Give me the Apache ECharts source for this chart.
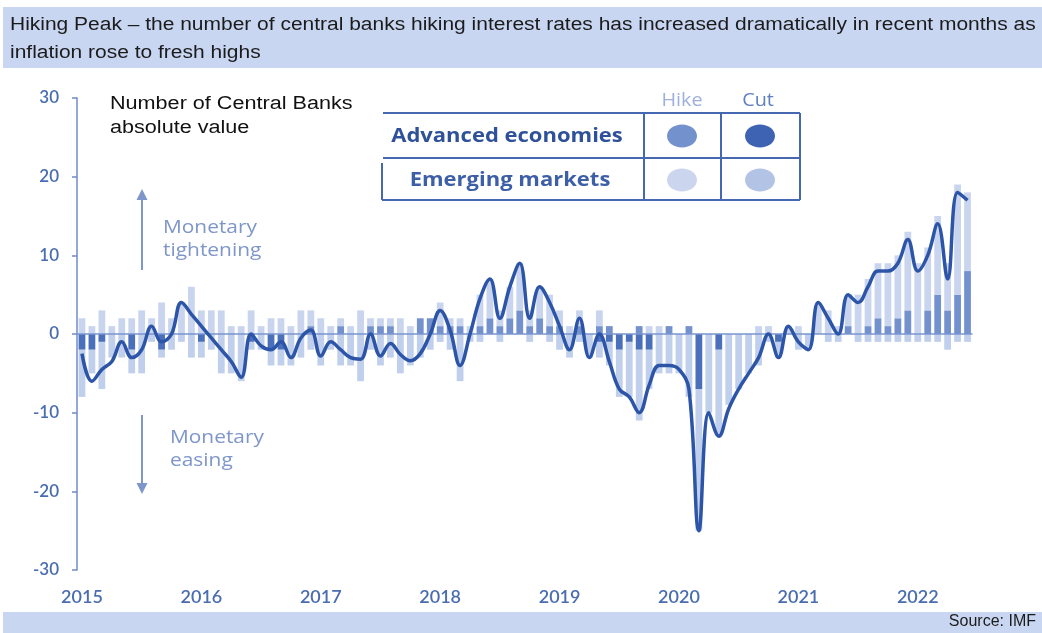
<!DOCTYPE html>
<html>
<head>
<meta charset="utf-8">
<script src="https://cdn.jsdelivr.net/npm/echarts@6/dist/echarts.min.js"></script>
<style>
  html, body { margin: 0; padding: 0; background: #ffffff; }
  #chart { width: 1042px; height: 633px; }
</style>
</head>
<body>
<div id="chart"></div>
<script>
// Monthly observations, Jan 2015 – Jun 2022
const years = [2015, 2016, 2017, 2018, 2019, 2020, 2021, 2022];
const monthsInLastYear = 6;

// Advanced economies: number of central banks hiking (positive) / cutting (negative)
const aeHike = [
  0, 0, 0, 0, 0, 0, 0, 0, 0, 0, 0, 0,
  0, 0, 0, 0, 0, 0, 0, 0, 0, 0, 0, 1,
  0, 0, 1, 0, 0, 1, 1, 1, 0, 0, 2, 2,
  1, 1, 1, 0, 1, 2, 1, 2, 3, 1, 2, 1,
  1, 0, 1, 0, 1, 1, 0, 0, 1, 0, 0, 1,
  0, 1, 0, 0, 0, 0, 0, 0, 0, 0, 0, 0,
  0, 0, 0, 0, 0, 1, 0, 1, 2, 1, 2, 3,
  0, 3, 5, 3, 5, 8
];
const aeCut = [
  -2, -2, -1, 0, 0, -2, 0, 0, -2, 0, 0, 0,
  -1, 0, 0, 0, 0, -1, 0, -2, -2, 0, 0, 0,
  0, 0, 0, 0, 0, 0, 0, 0, 0, 0, 0, 0,
  0, 0, 0, 0, 0, 0, 0, 0, 0, 0, 0, 0,
  0, 0, 0, 0, -1, -1, -2, -1, -2, -2, 0, 0,
  0, 0, -7, 0, -2, 0, 0, 0, 0, 0, -1, 0,
  0, 0, 0, 0, 0, 0, 0, 0, 0, 0, 0, 0,
  0, 0, 0, 0, 0, 0
];
// Emerging markets: hiking (positive) / cutting (negative)
const emHike = [
  2, 1, 3, 1, 2, 2, 3, 2, 4, 2, 4, 6,
  3, 3, 3, 1, 1, 3, 1, 2, 2, 1, 3, 2,
  2, 1, 1, 1, 3, 1, 1, 1, 2, 1, 0, 0,
  3, 1, 1, 1, 4, 5, 2, 4, 6, 2, 4, 4,
  2, 1, 2, 0, 2, 0, 0, 0, 0, 1, 1, 0,
  0, 0, 0, 0, 0, 0, 0, 0, 1, 1, 0, 1,
  1, 0, 4, 3, 1, 4, 5, 6, 7, 8, 8, 10,
  9, 8, 10, 6, 14, 10
];
const emCut = [
  -6, -3, -6, -3, -3, -3, -5, -1, -1, -2, -1, -3,
  -2, -2, -5, -5, -6, -1, -2, -2, -2, -4, -3, -2,
  -4, -2, -4, -4, -6, -2, -4, -3, -5, -4, -3, -2,
  -1, -2, -6, -1, -1, 0, -1, 0, 0, -1, 0, -1,
  -2, -3, -1, -3, -2, -3, -6, -7, -9, -5, -5, -5,
  -5, -8, -18, -10, -11, -9, -7, -5, -4, -1, -2, 0,
  -2, -2, 0, -1, -1, 0, -1, -1, -1, -1, -1, -1,
  -1, -1, -1, -2, -1, -1
];
// Net number of hikes minus cuts
const netChange = [
  -2.5, -6, -4.5, -3.5, -1, -3, -2, 1, -1, 0, 4, 2.5,
  1, -0.5, -2, -3.5, -5.5, 0, -1.5, -2, -1, -3, -0.5, 0.5,
  -2.8, -1, -2, -3, -3.2, 0, -2.8, -1.2, -2.6, -3.4, -2.5, 0,
  3, 0.5, -4, 0, 4.5, 7, 2, 6, 9, 2, 6, 4,
  1, -2, 2, -3, 0, -3.5, -7, -8, -10, -6.5, -4, -4,
  -4.5, -7, -25, -10, -13, -9.5, -7, -5, -3, 0, -3, 1,
  -1, -2, 4, 2, 0, 5, 4, 6, 8, 8, 9, 12,
  8, 10, 14, 7, 18, 17
];
const yTicks = [-30, -20, -10, 0, 10, 20, 30];

// Category labels "YYYY-MM"
const categories = [];
years.forEach(function (y, k) {
  const n = k === years.length - 1 ? monthsInLastYear : 12;
  for (let m = 1; m <= n; m++) categories.push(y + '-' + (m < 10 ? '0' : '') + m);
});

const blueText = '#4a6cb0';
const softBlue = '#7e96ca';
const frame = '#4668b2';

const chart = echarts.init(document.getElementById('chart'), null, { renderer: 'canvas' });

const barBase = {
  type: 'bar',
  stack: 'banks',
  barWidth: '68%',
  silent: true
};

function tableLine(x1, y1, x2, y2) {
  return { type: 'line', shape: { x1: x1, y1: y1, x2: x2, y2: y2 }, style: { stroke: frame, lineWidth: 2 } };
}

chart.setOption({
  animation: false,
  grid: { left: 77, right: 69.5, top: 98, bottom: 63 },
  xAxis: {
    type: 'category',
    data: categories,
    axisLine: { show: false },
    axisTick: { show: false },
    axisLabel: {
      interval: function (idx) { return idx % 12 === 0; },
      formatter: function (v) { return v.slice(0, 4); },
      color: blueText,
      fontFamily: 'Lato',
      fontWeight: 600,
      fontSize: 18,
      margin: 18
    }
  },
  yAxis: {
    type: 'value',
    min: yTicks[0],
    max: yTicks[yTicks.length - 1],
    interval: 10,
    splitLine: { show: false },
    axisLine: { show: true, lineStyle: { color: '#6f8bc8', width: 1.5 } },
    axisTick: { show: true, length: 5, lineStyle: { color: '#6f8bc8', width: 1.5 } },
    axisLabel: { color: blueText, fontFamily: 'Lato', fontWeight: 600, fontSize: 17, margin: 18 }
  },
  series: [
    Object.assign({}, barBase, { name: 'AE hike', data: aeHike, itemStyle: { color: '#7391cd' } }),
    Object.assign({}, barBase, { name: 'EM hike', data: emHike, itemStyle: { color: '#c9d5ee' } }),
    Object.assign({}, barBase, { name: 'AE cut', data: aeCut, itemStyle: { color: '#4a6fbb' } }),
    Object.assign({}, barBase, { name: 'EM cut', data: emCut, itemStyle: { color: '#c0cfec' } }),
    {
      name: 'Net',
      type: 'line',
      data: netChange,
      smooth: 0.4,
      symbol: 'none',
      z: 5,
      lineStyle: { color: '#2d55a7', width: 3.5 },
      markLine: {
        silent: true,
        symbol: 'none',
        label: { show: false },
        lineStyle: { color: '#7a95cf', width: 1.5, type: 'solid' },
        data: [{ yAxis: 0 }]
      }
    }
  ],
  graphic: [
    // header banner
    { type: 'rect', shape: { x: 3, y: 7, width: 1039, height: 61 }, style: { fill: '#c8d6f2' }, z: 0 },
    { type: 'text', x: 10, y: 11, scaleX: 1.165, style: {
        text: 'Hiking Peak – the number of central banks hiking interest rates has increased dramatically in recent months as\ninflation rose to fresh highs',
        fill: '#1b1b1b', font: '18px "Liberation Sans", Arial, sans-serif', lineHeight: 28 } },
    // footer banner
    { type: 'rect', shape: { x: 3, y: 612, width: 1039, height: 21 }, style: { fill: '#c8d6f2' }, z: 0 },
    { type: 'text', x: 1036, y: 622, style: {
        text: 'Source: IMF', fill: '#1b1b1b', font: '16px "Liberation Sans", Arial, sans-serif',
        align: 'right', verticalAlign: 'middle' } },

    // unit note
    { type: 'text', x: 110, y: 92, scaleX: 1.2, style: {
        text: 'Number of Central Banks\nabsolute value', fill: '#111111',
        font: '18px "Liberation Sans", Arial, sans-serif', lineHeight: 24 } },

    // direction notes
    { type: 'text', x: 163, y: 216, scaleX: 1.1, style: {
        text: 'Monetary\ntightening', fill: softBlue, font: '19px "Open Sans", sans-serif', lineHeight: 23 } },
    { type: 'line', shape: { x1: 142, y1: 270, x2: 142, y2: 197 }, style: { stroke: softBlue, lineWidth: 2 } },
    { type: 'polygon', shape: { points: [[142, 189], [136.5, 200], [147.5, 200]] }, style: { fill: softBlue } },
    { type: 'text', x: 170, y: 426, scaleX: 1.1, style: {
        text: 'Monetary\neasing', fill: softBlue, font: '19px "Open Sans", sans-serif', lineHeight: 23 } },
    { type: 'line', shape: { x1: 142, y1: 415, x2: 142, y2: 486 }, style: { stroke: softBlue, lineWidth: 2 } },
    { type: 'polygon', shape: { points: [[142, 494], [136.5, 483], [147.5, 483]] }, style: { fill: softBlue } },

    // key table
    { type: 'text', x: 682, y: 101, scaleX: 1.1, style: { text: 'Hike', fill: '#9db1dc', font: '18px "Open Sans", sans-serif', align: 'center', verticalAlign: 'middle' } },
    { type: 'text', x: 758, y: 101, scaleX: 1.1, style: { text: 'Cut', fill: '#5f80c2', font: '18px "Open Sans", sans-serif', align: 'center', verticalAlign: 'middle' } },
    tableLine(383, 113, 800, 113),
    tableLine(383, 158, 800, 158),
    tableLine(382, 200, 800, 200),
    tableLine(382, 163, 382, 200),
    tableLine(644, 113, 644, 200),
    tableLine(721, 113, 721, 200),
    tableLine(800, 113, 800, 200),
    { type: 'text', x: 507, y: 136, scaleX: 1.1, style: { text: 'Advanced economies', fill: '#2f5199', font: 'bold 20px "Open Sans", sans-serif', align: 'center', verticalAlign: 'middle' } },
    { type: 'text', x: 510, y: 180, scaleX: 1.1, style: { text: 'Emerging markets', fill: '#3d5fa8', font: 'bold 20px "Open Sans", sans-serif', align: 'center', verticalAlign: 'middle' } },
    { type: 'ellipse', shape: { cx: 682, cy: 136, rx: 15, ry: 11.5 }, style: { fill: '#7391cd' } },
    { type: 'ellipse', shape: { cx: 760, cy: 136, rx: 15, ry: 11.5 }, style: { fill: '#3d63b2' } },
    { type: 'ellipse', shape: { cx: 682, cy: 180, rx: 15, ry: 11.5 }, style: { fill: '#cbd6ee' } },
    { type: 'ellipse', shape: { cx: 760, cy: 180, rx: 15, ry: 11.5 }, style: { fill: '#b2c3e6' } }
  ]
});
</script>
</body>
</html>
